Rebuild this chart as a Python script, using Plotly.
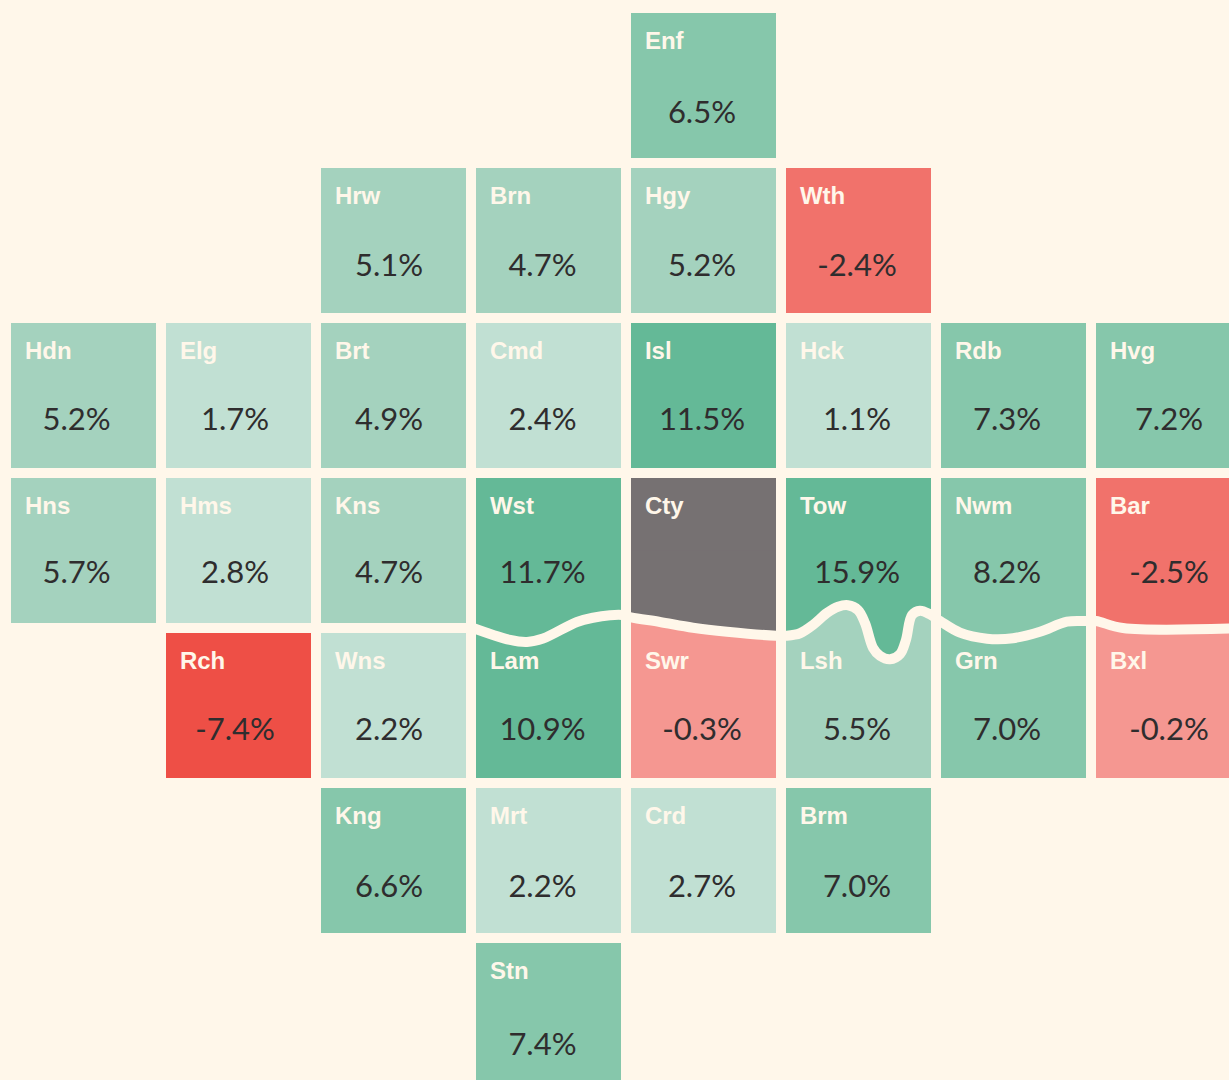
import numpy as np
import plotly.graph_objects as go

names = ["Enf","Hrw","Brn","Hgy","Wth","Hdn","Elg","Brt","Cmd","Isl","Hck","Rdb","Hvg",
         "Hns","Hms","Kns","Wst","Cty","Tow","Nwm","Bar","Rch","Wns","Lam","Swr","Lsh","Grn","Bxl",
         "Kng","Mrt","Crd","Brm","Stn"]
cols = [4,2,3,4,5,0,1,2,3,4,5,6,7,0,1,2,3,4,5,6,7,1,2,3,4,5,6,7,2,3,4,5,3]
rows = [0,1,1,1,1,2,2,2,2,2,2,2,2,3,3,3,3,3,3,3,3,4,4,4,4,4,4,4,5,5,5,5,6]
values = [6.5,5.1,4.7,5.2,-2.4,5.2,1.7,4.9,2.4,11.5,1.1,7.3,7.2,
          5.7,2.8,4.7,11.7,None,15.9,8.2,-2.5,-7.4,2.2,10.9,-0.3,5.5,7.0,-0.2,
          6.6,2.2,2.7,7.0,7.4]

bucket_colors = ["#767172","#ee4f46","#f1726b","#f59791","#c1e0d3","#a4d2be","#86c7ab","#64b997"]
bucket_edges = [-5.0,-1.0,0.0,3.0,6.0,10.0]

value_x_by_col = [-0.045,0.978,1.971,2.961,3.990,4.990,5.958,7.003]
value_y_by_row = [0.190,1.177,2.171,3.158,4.171,5.184,6.203]

river_x = [2.500,2.752,2.861,2.965,3.184,3.287,3.397,3.474,3.532,3.719,3.932,4.152,
           4.468,4.532,4.623,4.706,4.797,4.868,4.932,4.997,5.042,5.094,5.139,5.203,5.268,5.306,
           5.345,5.397,5.461,5.526,5.655,5.829,5.997,6.171,6.345,6.468,6.532,6.706,7.500]
river_y = [3.495,3.577,3.590,3.568,3.461,3.434,3.418,3.416,3.431,3.461,3.498,3.524,
           3.550,3.550,3.534,3.481,3.403,3.363,3.353,3.384,3.468,3.629,3.680,3.702,3.668,3.577,
           3.416,3.388,3.412,3.455,3.530,3.569,3.566,3.524,3.459,3.455,3.455,3.500,3.500]

BG = "#fff7ea"
INK = "#2f2d2e"
W, H = 1229, 1080
PITCH = 155.0
CX0, CY0 = 83.5, 85.5
HALF = 72.5 / PITCH


def bucket(v):
    if v is None:
        return 0
    return 1 + int(np.searchsorted(bucket_edges, v))


def fmt(v):
    return "" if v is None else f"{v:.1f}%"


z = [[None] * 8 for _ in range(7)]
for c, r, v in zip(cols, rows, values):
    z[r][c] = bucket(v) + 0.5

n = len(bucket_colors)
colorscale = []
for i, col in enumerate(bucket_colors):
    colorscale += [[i / n, col], [(i + 1) / n, col]]

fig = go.Figure()
fig.add_trace(go.Heatmap(z=z, x=list(range(8)), y=list(range(7)), zmin=0, zmax=n,
                         colorscale=colorscale, showscale=False, xgap=10, ygap=10,
                         hoverinfo="skip"))

# cells either side of the river meet along it rather than at the row gap
rx, ry = np.array(river_x), np.array(river_y)
cell_at = {(c, r): bucket(v) for c, r, v in zip(cols, rows, values)}
for c in range(3, 8):
    x0, x1 = c - HALF, c + HALF
    inside = (rx > x0) & (rx < x1)
    xs = np.r_[x0, rx[inside], x1]
    ys = np.r_[np.interp(x0, rx, ry), ry[inside], np.interp(x1, rx, ry)]
    for r, edge in ((3, 3.0), (4, 4.0)):
        fig.add_trace(go.Scatter(x=list(xs) + [x1, x0], y=list(ys) + [edge, edge],
                                 mode="lines", fill="toself", line=dict(width=0, simplify=False),
                                 fillcolor=bucket_colors[cell_at[(c, r)]],
                                 hoverinfo="skip", showlegend=False))

fig.add_trace(go.Scatter(x=river_x, y=river_y, mode="lines",
                         line=dict(color=BG, width=10, shape="spline", smoothing=1.0, simplify=False),
                         hoverinfo="skip", showlegend=False))

fig.add_trace(go.Scatter(x=[c - 0.378 for c in cols], y=[r - 0.275 for r in rows],
                         text=names, mode="text", textposition="middle right",
                         textfont=dict(family="Liberation Sans", size=24, color=BG, weight="bold"),
                         hoverinfo="skip", showlegend=False))
fig.add_trace(go.Scatter(x=[value_x_by_col[c] for c in cols], y=[value_y_by_row[r] for r in rows],
                         text=[fmt(v) for v in values], mode="text", textposition="middle center",
                         textfont=dict(family="Lato", size=31, color=INK),
                         hoverinfo="skip", showlegend=False))

fig.update_layout(width=W, height=H, margin=dict(l=0, r=0, t=0, b=0),
                  paper_bgcolor=BG, plot_bgcolor=BG, showlegend=False)
fig.update_xaxes(range=[-CX0 / PITCH, (W - CX0) / PITCH], visible=False, fixedrange=True)
fig.update_yaxes(range=[(H - CY0) / PITCH, -CY0 / PITCH], visible=False, fixedrange=True)
fig.write_html("out.html", config={"displayModeBar": False},
               post_script=f"document.body.style.margin='0';document.body.style.background='{BG}';"
                           "document.documentElement.style.overflow='hidden';")
